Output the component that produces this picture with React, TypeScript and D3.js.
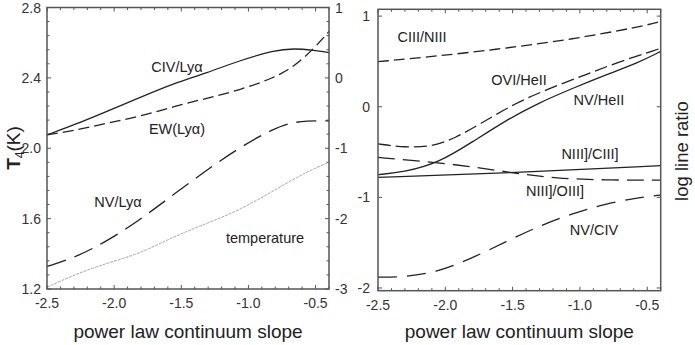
import React, { useEffect, useRef } from 'react';
import * as d3 from 'd3';

// x values shared by the curves (power law slope)
const slopeL = [-2.5, -2.3, -2.06, -1.81, -1.56, -1.31, -1.06, -0.81, -0.66, -0.51, -0.4];
const civLya = [-0.81, -0.67, -0.48, -0.28, -0.08, 0.07, 0.25, 0.39, 0.42, 0.39, 0.36];
const ewLya = [-0.81, -0.75, -0.645, -0.55, -0.41, -0.29, -0.17, 0.0, 0.16, 0.42, 0.66];

const slopeNv = [-2.5, -2.3, -2.06, -1.81, -1.56, -1.31, -1.06, -0.81, -0.69, -0.57, -0.4];
const nvLya = [-2.68, -2.56, -2.33, -2.02, -1.66, -1.31, -0.98, -0.72, -0.64, -0.61, -0.61];

const slopeT = [-2.5, -2.3, -2.06, -1.81, -1.56, -1.31, -1.06, -0.81, -0.57, -0.4];
const temperature = [1.21, 1.28, 1.346, 1.4, 1.497, 1.573, 1.65, 1.76, 1.865, 1.92];

const slopeR = [-2.5, -2.05, -1.55, -1.06, -0.56, -0.4];
const ciiiNiii = [0.497, 0.56, 0.645, 0.744, 0.88, 0.94];

const slopeO = [-2.5, -2.3, -2.1, -1.93, -1.73, -1.48, -1.23, -0.98, -0.74, -0.4];
const oviHeii = [-0.41, -0.45, -0.44, -0.35, -0.18, 0.04, 0.2, 0.34, 0.48, 0.645];

const slopeN = [-2.5, -2.3, -2.05, -1.8, -1.55, -1.31, -1.06, -0.81, -0.56, -0.4];
const nvHeii = [-0.75, -0.72, -0.62, -0.39, -0.15, 0.04, 0.2, 0.35, 0.49, 0.61];
const nvCiv = [-1.88, -1.88, -1.82, -1.67, -1.49, -1.32, -1.18, -1.07, -1.0, -0.975];

const slopeF = [-2.5, -1.5, -0.4];
const niiiCiii = [-0.78, -0.73, -0.65];

const slopeX = [-2.5, -2.17, -1.8, -1.48, -1.18, -0.81, -0.4];
const niiiOiii = [-0.56, -0.6, -0.66, -0.735, -0.79, -0.81, -0.81];

const xTicks = [-2.5, -2.0, -1.5, -1.0, -0.5];
const tTicks = [1.2, 1.6, 2.0, 2.4, 2.8];
const logTicksL = [1, 0, -1, -2, -3];
const logTicksR = [1, 0, -1, -2];

const FONT = '"Liberation Sans", Arial, sans-serif';
const INK = '#222';
const FRAME = '#555';
const TICKFS = 14;
const LABELFS = 14.5;

export default function App() {
  const svgRef = useRef<SVGSVGElement>(null);

  useEffect(() => {
    const svg = d3.select(svgRef.current); svg.selectAll('*').remove();

    const drawPanel = (left: number, right: number, top: number, bottom: number) => {
      const x = d3.scaleLinear().domain([-2.5, -0.4]).range([left, right]);
      const g = svg.append('g');
      // minor x ticks every 0.1, top and bottom
      const minor = d3.range(-2.5, -0.399, 0.1);
      minor.forEach(v => {
        const major = Math.abs(v * 2 - Math.round(v * 2)) < 1e-6;
        const len = major ? 4 : 2.5;
        g.append('line').attr('x1', x(v)).attr('x2', x(v)).attr('y1', bottom).attr('y2', bottom - len)
          .attr('stroke', FRAME).attr('stroke-width', 1);
        g.append('line').attr('x1', x(v)).attr('x2', x(v)).attr('y1', top).attr('y2', top + len)
          .attr('stroke', FRAME).attr('stroke-width', 1);
      });
      xTicks.forEach(v => {
        g.append('text').attr('x', x(v)).attr('y', bottom + 19).attr('text-anchor', 'middle')
          .attr('font-family', FONT).attr('font-size', TICKFS).attr('fill', '#333').text(v.toFixed(1));
      });
      g.append('text').attr('x', (left + right) / 2).attr('y', 338).attr('text-anchor', 'middle')
        .attr('font-family', FONT).attr('font-size', 19).attr('fill', INK).text('power law continuum slope');
      return { x, g };
    };

    const line = (xs: number[], ys: number[], x: any, y: any) =>
      d3.line<number>().x((_, i) => x(xs[i])).y(d => y(d)).curve(d3.curveBasis)(ys);

    // ---------- left panel
    const L = { left: 47, right: 329, top: 7.5, bottom: 289 };
    const { x: xL, g: gL } = drawPanel(L.left, L.right, L.top, L.bottom);
    const yT = d3.scaleLinear().domain([1.2, 2.8]).range([L.bottom, L.top]);
    const yLog = d3.scaleLinear().domain([-3, 1]).range([L.bottom, L.top]);

    d3.range(1.2, 2.801, 0.08).forEach(v => {
      const major = tTicks.some(t => Math.abs(t - v) < 1e-6);
      gL.append('line').attr('x1', L.left).attr('x2', L.left + (major ? 4 : 2.5)).attr('y1', yT(v)).attr('y2', yT(v))
        .attr('stroke', FRAME).attr('stroke-width', 1);
    });
    d3.range(-3, 1.001, 0.2).forEach(v => {
      const major = Math.abs(v - Math.round(v)) < 1e-6;
      gL.append('line').attr('x1', L.right).attr('x2', L.right - (major ? 4 : 2.5)).attr('y1', yLog(v)).attr('y2', yLog(v))
        .attr('stroke', FRAME).attr('stroke-width', 1);
    });
    tTicks.forEach(v => {
      gL.append('text').attr('x', 41).attr('y', yT(v) + 5).attr('text-anchor', 'end')
        .attr('font-family', FONT).attr('font-size', TICKFS).attr('fill', '#333').text(v.toFixed(1));
    });
    logTicksL.forEach(v => {
      gL.append('text').attr('x', 335).attr('y', yLog(v) + 5).attr('text-anchor', 'start')
        .attr('font-family', FONT).attr('font-size', TICKFS).attr('fill', '#333').text(String(v));
    });
    const tl = gL.append('text').attr('transform', 'translate(20,148) rotate(-90)').attr('text-anchor', 'middle')
      .attr('font-family', FONT).attr('font-size', 19).attr('fill', INK);
    tl.append('tspan').attr('font-weight', 'bold').text('T');
    tl.append('tspan').attr('font-size', 12).attr('dy', 4).text('4');
    tl.append('tspan').attr('dy', -4).text('(K)');

    gL.append('path').attr('d', line(slopeT, temperature, xL, yT)).attr('fill', 'none')
      .attr('stroke', '#aaa').attr('stroke-width', 1).attr('stroke-dasharray', '3,1');
    gL.append('path').attr('d', line(slopeL, civLya, xL, yLog)).attr('fill', 'none')
      .attr('stroke', INK).attr('stroke-width', 1.3);
    gL.append('path').attr('d', line(slopeL, ewLya, xL, yLog)).attr('fill', 'none')
      .attr('stroke', INK).attr('stroke-width', 1.3).attr('stroke-dasharray', '11,5');
    gL.append('path').attr('d', line(slopeNv, nvLya, xL, yLog)).attr('fill', 'none')
      .attr('stroke', INK).attr('stroke-width', 1.3).attr('stroke-dasharray', '20,9');

    const labelsL: [string, number, number][] = [
      ['CIV/Lyα', 177, 72], ['EW(Lyα)', 177, 134], ['NV/Lyα', 118, 207], ['temperature', 265, 243],
    ];
    labelsL.forEach(([t, px, py]) => {
      gL.append('text').attr('x', px).attr('y', py).attr('text-anchor', 'middle')
        .attr('font-family', FONT).attr('font-size', LABELFS).attr('fill', INK).text(t);
    });
    gL.append('rect').attr('x', L.left).attr('y', L.top).attr('width', L.right - L.left).attr('height', L.bottom - L.top)
      .attr('fill', 'none').attr('stroke', FRAME).attr('stroke-width', 1.5);

    // ---------- right panel
    const R = { left: 378, right: 660.7, top: 9.3, bottom: 290.7 };
    const { x: xR, g: gR } = drawPanel(R.left, R.right, R.top, R.bottom);
    const yR = d3.scaleLinear().domain([-2.03, 1.075]).range([R.bottom, R.top]);

    logTicksR.forEach(v => {
      gR.append('line').attr('x1', R.left).attr('x2', R.left + 4).attr('y1', yR(v)).attr('y2', yR(v))
        .attr('stroke', FRAME).attr('stroke-width', 1);
      gR.append('line').attr('x1', R.right).attr('x2', R.right - 4).attr('y1', yR(v)).attr('y2', yR(v))
        .attr('stroke', FRAME).attr('stroke-width', 1);
      gR.append('text').attr('x', 370).attr('y', yR(v) + 5).attr('text-anchor', 'end')
        .attr('font-family', FONT).attr('font-size', TICKFS).attr('fill', '#333').text(String(v));
    });
    gR.append('text').attr('transform', 'translate(688,151) rotate(-90)').attr('text-anchor', 'middle')
      .attr('font-family', FONT).attr('font-size', 18.5).attr('fill', INK).text('log line ratio');

    const series: [number[], number[], string | null][] = [
      [slopeR, ciiiNiii, '11,5'],
      [slopeO, oviHeii, '13,5'],
      [slopeN, nvHeii, null],
      [slopeF, niiiCiii, null],
      [slopeX, niiiOiii, '17,8'],
      [slopeN, nvCiv, '19,10'],
    ];
    series.forEach(([xs, ys, dash]) => {
      const p = gR.append('path').attr('d', line(xs, ys, xR, yR)).attr('fill', 'none')
        .attr('stroke', INK).attr('stroke-width', 1.3);
      if (dash) p.attr('stroke-dasharray', dash);
    });

    const labelsR: [string, number, number][] = [
      ['CIII/NIII', 422, 42], ['OVI/HeII', 519, 85], ['NV/HeII', 599, 105],
      ['NIII]/CIII]', 590, 159], ['NIII]/OIII]', 555, 196], ['NV/CIV', 594, 235],
    ];
    labelsR.forEach(([t, px, py]) => {
      gR.append('text').attr('x', px).attr('y', py).attr('text-anchor', 'middle')
        .attr('font-family', FONT).attr('font-size', LABELFS).attr('fill', INK).text(t);
    });
    gR.append('rect').attr('x', R.left).attr('y', R.top).attr('width', R.right - R.left).attr('height', R.bottom - R.top)
      .attr('fill', 'none').attr('stroke', FRAME).attr('stroke-width', 1.5);
  }, []);

  return (
    <svg ref={svgRef} width={695} height={345} viewBox="0 0 695 345"
      style={{ position: 'absolute', left: 0, top: 0, background: '#fff' }} />
  );
}
